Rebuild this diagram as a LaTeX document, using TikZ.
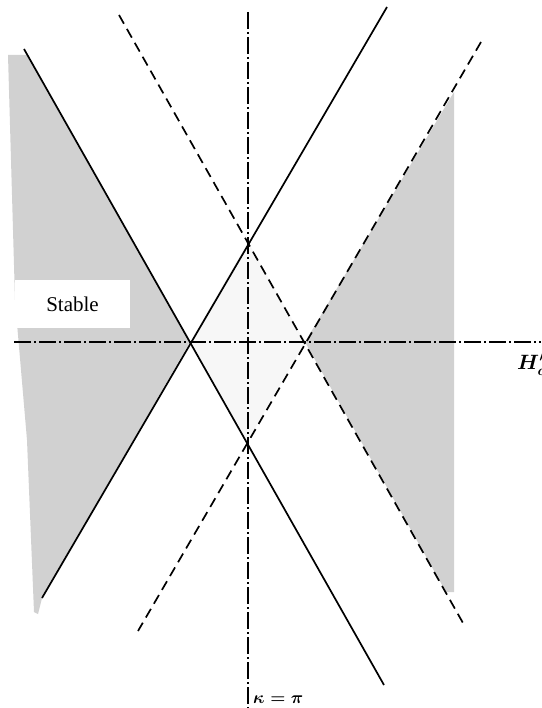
\documentclass[tikz,border=0pt]{standalone}
\usepackage{fontspec}
\setmainfont{Liberation Serif}
\begin{document}
\begin{tikzpicture}[x=1pt,y=-1pt,
  solidline/.style={line width=1.7pt},
  dashline/.style={line width=1.7pt, dash pattern=on 10pt off 6pt},
  axisline/.style={line width=1.8pt, dash pattern=on 17pt off 3pt on 2pt off 3pt},
  shade/.style={fill=black!18},
  faint/.style={fill=black!3}]
\useasboundingbox (0,0) rectangle (541,708);
\fill[white] (0,0) rectangle (541,708);
% endpoints
\coordinate (Aa) at (24,49);   \coordinate (Ab) at (384,685);  % solid descending
\coordinate (Ba) at (387,7);   \coordinate (Bb) at (42,598);   % solid ascending
\coordinate (Ca) at (119,15);  \coordinate (Cb) at (463,623);  % dashed descending
\coordinate (Da) at (481,42);  \coordinate (Db) at (138,631);  % dashed ascending
\coordinate (Ha) at (14,342);  \coordinate (Hb) at (541,342);  % horizontal axis
\coordinate (Va) at (248,12);  \coordinate (Vb) at (248,708);  % vertical axis
\coordinate (P1) at (190,342); \coordinate (P2) at (248,242);
\coordinate (P3) at (305,342); \coordinate (P4) at (247,442);
% shading
\fill[shade] (8,55) -- (27,55) -- (P1) -- (Bb) -- (38,614) -- (34,612) -- (27,440) -- (15,300) -- cycle;
\fill[shade] (454,92) -- (P3) -- (446,592) -- (454,592) -- cycle;
\fill[faint] (P1) -- (P2) -- (P3) -- (P4) -- cycle;
% stable label
\node[fill=white, minimum width=115pt, minimum height=48pt, inner sep=0pt,
      font=\fontsize{21}{24}\selectfont] (stable) at (72.5,304) {Stable};
% axes
\draw[axisline] (Ha) -- (Hb);
\draw[axisline, line width=1.5pt] (Va) -- (Vb);
% lines
\draw[solidline] (Aa) -- (Ab);
\draw[solidline] (Ba) -- (Bb);
\draw[dashline] (Ca) -- (Cb);
\draw[dashline] (Da) -- (Db);
% labels
\node[anchor=base west, inner sep=0pt, font=\fontsize{19}{22}\selectfont\boldmath] (kap) at (253,703) {$\kappa=\pi$};
\node[anchor=base west, inner sep=0pt, font=\fontsize{20}{22}\selectfont\boldmath] (hc) at (517,369) {$H'_c$};
\end{tikzpicture}
\end{document}
